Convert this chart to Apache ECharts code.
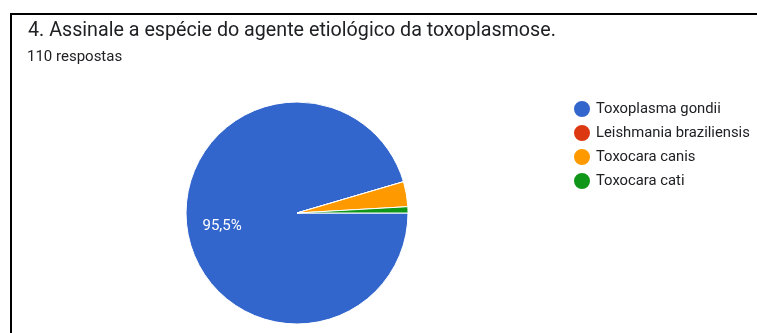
<!DOCTYPE html>
<html>
<head>
<meta charset="utf-8">
<script src="https://cdn.jsdelivr.net/npm/echarts@6/dist/echarts.min.js"></script>
<style>
  html, body { margin: 0; padding: 0; background: #fff; }
  #chart { width: 757px; height: 333px; }
</style>
</head>
<body>
<div id="chart"></div>
<script>
const categories = ['Toxoplasma gondii', 'Leishmania braziliensis', 'Toxocara canis', 'Toxocara cati']
const counts = [105, 0, 4, 1]
const colors = ['#3366cc', '#dc3912', '#ff9900', '#109618']

const chart = echarts.init(document.getElementById('chart'))

chart.setOption({
  animation: false,
  color: colors,
  title: [
    {
      text: '4. Assinale a espécie do agente etiológico da toxoplasmose.',
      left: 23,
      top: 16,
      textStyle: { fontFamily: 'Roboto', fontSize: 19.7, fontWeight: 'normal', color: '#202124' }
    },
    {
      text: '110 respostas',
      left: 22,
      top: 45,
      textStyle: { fontFamily: 'Roboto', fontSize: 15, fontWeight: 'normal', color: '#202124' }
    }
  ],
  legend: {
    orient: 'vertical',
    left: 567,
    top: 94,
    icon: 'circle',
    itemWidth: 18,
    itemHeight: 18,
    itemGap: 4,
    textStyle: { fontFamily: 'Roboto', fontSize: 14.8, color: '#202124', lineHeight: 18 },
    data: categories
  },
  graphic: [
    // moldura do print: linha de cima e da esquerda
    { type: 'line', shape: { x1: 10, y1: 14, x2: 757, y2: 14 }, style: { stroke: '#000', lineWidth: 2 } },
    { type: 'line', shape: { x1: 11, y1: 13, x2: 11, y2: 333 }, style: { stroke: '#000', lineWidth: 2 } }
  ],
  series: [
    {
      type: 'pie',
      center: [297, 213],
      radius: 111,
      startAngle: 0,
      clockwise: true,
      avoidLabelOverlap: false,
      itemStyle: { borderColor: '#fff', borderWidth: 1 },
      label: {
        show: true,
        position: 'inside',
        color: '#fff',
        fontFamily: 'Roboto',
        fontSize: 15,
        formatter: p => p.percent >= 5 ? p.percent.toFixed(1).replace('.', ',') + '%' : ''
      },
      labelLayout: { dx: -17, dy: 5 },
      labelLine: { show: false },
      emphasis: { disabled: true },
      data: categories.map((name, i) => ({ name, value: counts[i] }))
    }
  ]
})
</script>
</body>
</html>
